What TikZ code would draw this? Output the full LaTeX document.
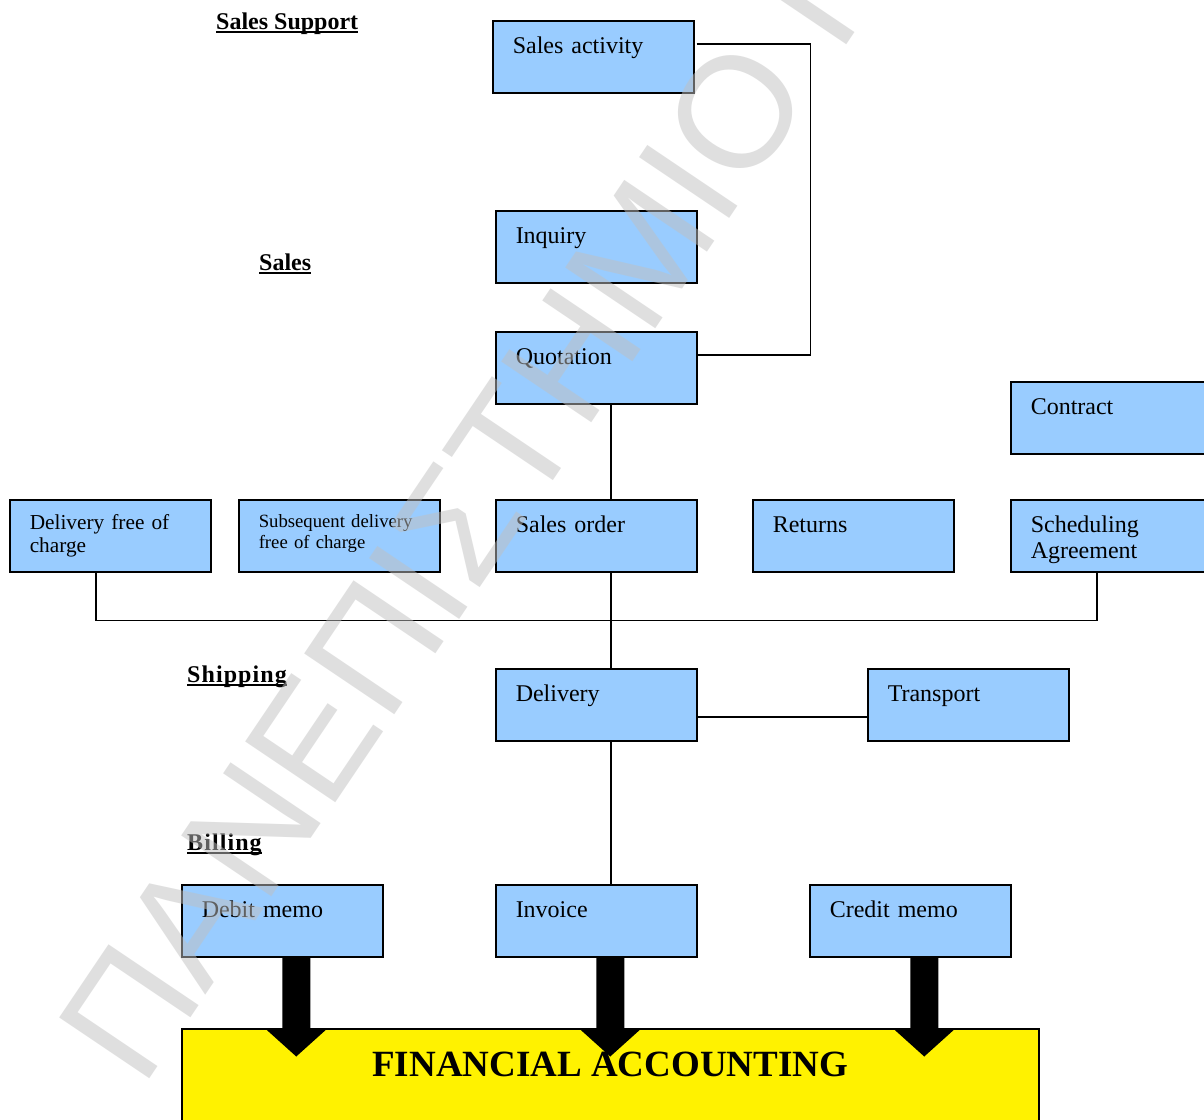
\documentclass[tikz,border=0pt]{standalone}
\usepackage{fontspec}
\setmainfont{Liberation Serif}
\newfontfamily\wmfont{Liberation Sans}
\usetikzlibrary{positioning,calc}
\definecolor{BoxBlue}{HTML}{99CCFF}
\definecolor{WmGray}{RGB}{192,192,192}
\tikzset{
  doc/.style={draw=black, line width=1.5bp, fill=BoxBlue, anchor=north west,
    minimum width=201bp, minimum height=72bp, text width=161bp,
    inner xsep=20bp, inner ysep=0bp, align=left,
    text height=33bp, text depth=39bp, font=\fontsize{24bp}{26bp}\selectfont},
  smalldoc/.style={text height=30bp, text depth=42bp, font=\fontsize{21.3bp}{23bp}\selectfont},
  tinydoc/.style={text height=28bp, text depth=44bp, font=\fontsize{18.7bp}{21bp}\selectfont},
  head/.style={font=\bfseries\fontsize{24bp}{26bp}\selectfont, inner sep=0pt, anchor=base west},
  widehead/.style={font=\bfseries\fontsize{24bp}{26bp}\selectfont\addfontfeature{LetterSpace=4.5}},
  link/.style={line width=1.5bp},
  fat/.style={fill=black}
}
\begin{document}
\begin{tikzpicture}[x=1bp,y=-1bp]
  \clip (0,0) rectangle (1204,1120);
  \fill[white] (0,0) rectangle (1204,1120);
  %Headings
  \node[head] (hsupport) at (216,29) {Sales Support};
  \node[head] (hsales) at (259,270) {Sales};
  \node[head,widehead] (hship) at (187,682) {Shipping};
  \node[head,widehead] (hbill) at (187,850) {Billing};
  \foreach \h in {hsupport,hsales,hship,hbill}
    \draw[line width=2bp] ($(\h.base west)+(0,3)$) -- ($(\h.base east)+(0,3)$);
  %Documents
  \node[doc] (salesact) at (492,20) {Sales activity};
  \node[doc] (inq) at (495,210) {Inquiry};
  \node[doc] (quot) at (495,331) {Quotation};
  \node[doc] (contract) at (1010,381) {Contract};
  \node[doc,smalldoc] (dfree) at (9,499) {Delivery free of\\charge};
  \node[doc,tinydoc] (subdel) at (238,499) {Subsequent delivery\\free of charge};
  \node[doc] (order) at (495,499) {Sales order};
  \node[doc] (returns) at (752,499) {Returns};
  \node[doc] (sched) at (1010,499) {Scheduling\\Agreement};
  \node[doc] (deliv) at (495,668) {Delivery};
  \node[doc] (trans) at (867,668) {Transport};
  \node[doc] (debit) at (181,884) {Debit memo};
  \node[doc] (invoice) at (495,884) {Invoice};
  \node[doc] (credit) at (809,884) {Credit memo};
  %Accounting
  \node[draw=black, line width=1.5bp, fill=yellow, anchor=north west,
    minimum width=857bp, minimum height=150bp, inner ysep=0bp,
    text height=48bp, text depth=102bp,
    font=\bfseries\fontsize{37bp}{40bp}\selectfont] (fa) at (181,1028) {FINANCIAL ACCOUNTING};
  %Connectors
  \coordinate (spine) at ($(quot.south)+(14.5,0)$);
  \draw[link] ($(salesact.east)+(2,-13)$) -- ++(114,0) |- ($(quot.east)+(0,-13)$);
  \draw[link] (quot.south -| spine) -- (order.north -| spine);
  \draw[link] (order.south -| spine) -- (deliv.north -| spine);
  \draw[link] (deliv.south -| spine) -- (invoice.north -| spine);
  \draw[link] ($(dfree.south)+(-14.5,0)$) |- ($(sched.south)+(-14.5,48)$) -- ($(sched.south)+(-14.5,0)$);
  \draw[link] ($(deliv.east)+(0,12)$) -- ($(trans.west)+(0,12)$);
  %Posting arrows
  \foreach \src in {debit,invoice,credit}
    \fill[fat] ($(\src.south)+(14,0)$) +(-14,0) -- +(-14,72) -- +(-30,72) -- +(0,99)
      -- +(30,72) -- +(14,72) -- +(14,0) -- cycle;
  %Watermark
  \node[font=\wmfont\fontsize{158bp}{160bp}\selectfont, text=WmGray, text opacity=0.5,
    inner sep=0pt, anchor=base west, rotate=56] (wmark) at (142,1090) {ΠΑΝΕΠΙΣΤΗΜΙΟ ΠΕΙΡΑΙΑ};
\end{tikzpicture}
\end{document}
